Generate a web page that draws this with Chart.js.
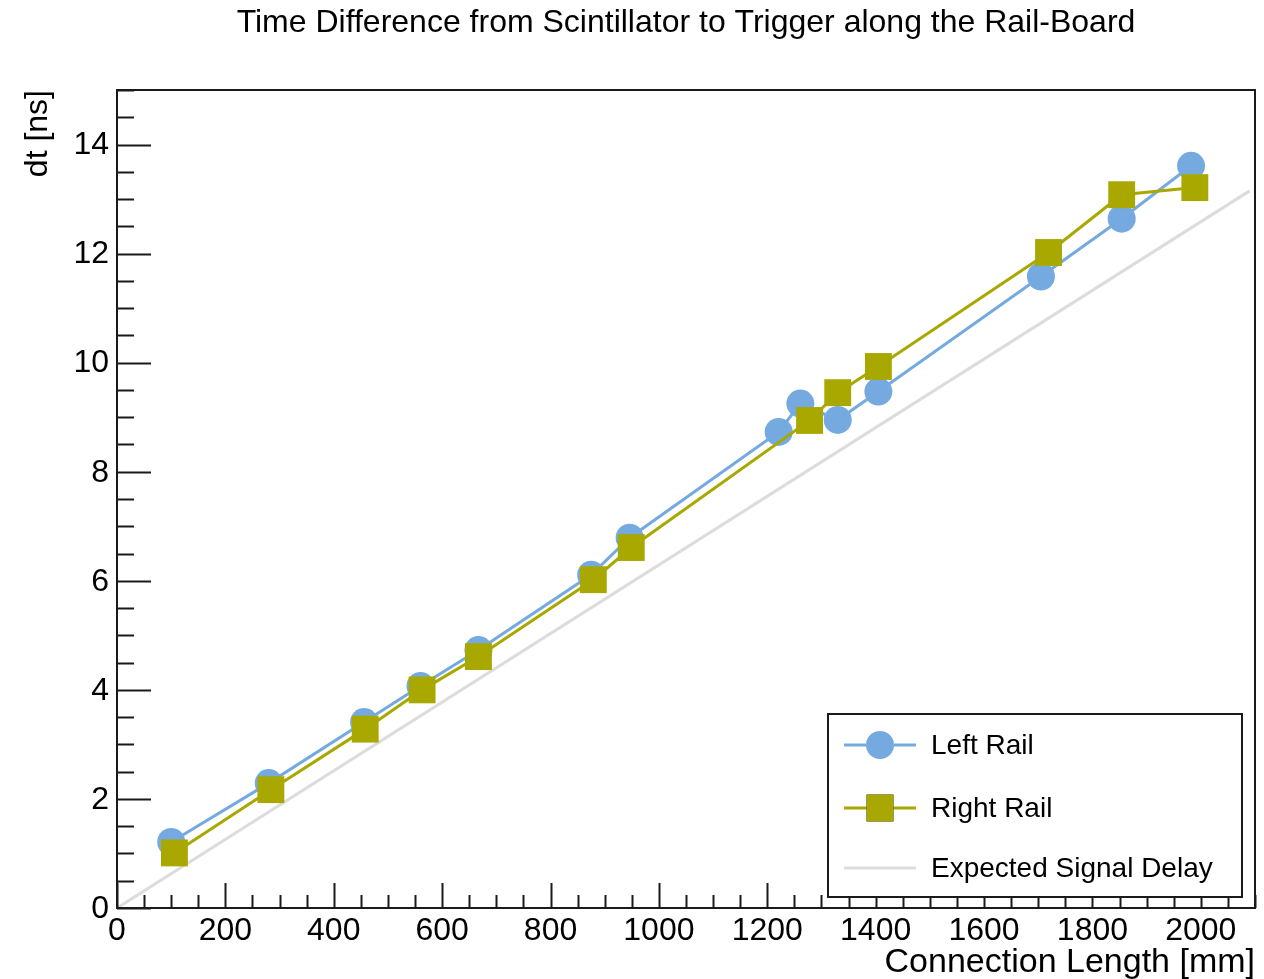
<!DOCTYPE html>
<html>
<head>
<meta charset="utf-8">
<script src="https://cdn.jsdelivr.net/npm/chart.js@4.4.1/dist/chart.umd.min.js"></script>
<style>
  html, body { margin: 0; padding: 0; background: #fff; }
</style>
</head>
<body>
<canvas id="chart" width="1264" height="979"></canvas>
<script>
// connection length [mm] and measured dt [ns] per rail
const leftLength  = [100, 280, 456, 560, 667, 875, 946, 1221, 1261, 1330, 1405, 1705, 1854, 1982];
const leftDt      = [1.21, 2.29, 3.41, 4.07, 4.73, 6.11, 6.79, 8.73, 9.25, 8.95, 9.47, 11.58, 12.64, 13.61];
const rightLength = [106, 284, 458, 563, 667, 879, 949, 1278, 1330, 1405, 1719, 1854, 1989];
const rightDt     = [1.01, 2.17, 3.28, 4.00, 4.61, 6.02, 6.61, 8.94, 9.45, 9.93, 12.02, 13.08, 13.21];
const expectedLength = [0, 2090];
const expectedDt     = [0, 13.15];

const xMajorTicks = [0, 200, 400, 600, 800, 1000, 1200, 1400, 1600, 1800, 2000];
const yMajorTicks = [0, 2, 4, 6, 8, 10, 12, 14];

const titleText = 'Time Difference from Scintillator to Trigger along the Rail-Board';
const xTitle = 'Connection Length [mm]';
const yTitle = 'dt [ns]';

const FONT = "'Liberation Sans', Arial, Helvetica, sans-serif";
const BLUE = '#74aae0';
const OLIVE = '#a8a800';
const GREY = '#dcdcdc';

const toPoints = (xs, ys) => xs.map((x, i) => ({ x, y: ys[i] }));

// ROOT-like frame: inward ticks, labels, titles and a boxed legend
const rootFrame = {
  id: 'rootFrame',
  afterDraw(chart) {
    const { ctx, chartArea: a } = chart;
    const xs = chart.scales.x, ys = chart.scales.y;
    ctx.save();

    ctx.strokeStyle = '#1a1a1a';
    ctx.lineWidth = 2;
    ctx.strokeRect(a.left, a.top, a.right - a.left, a.bottom - a.top);

    ctx.lineWidth = 2;
    ctx.beginPath();
    for (let v = 0; v <= xs.max; v += 50) {
      const px = Math.round(xs.getPixelForValue(v)) + 0.5;
      const len = v % 200 === 0 ? 25 : 13;
      ctx.moveTo(px, a.bottom);
      ctx.lineTo(px, a.bottom - len);
    }
    for (let v = 0; v <= ys.max; v += 0.5) {
      const py = Math.round(ys.getPixelForValue(v)) + 0.5;
      const len = v % 2 === 0 ? 34 : 17;
      ctx.moveTo(a.left, py);
      ctx.lineTo(a.left + len, py);
    }
    ctx.stroke();

    ctx.fillStyle = '#000';
    ctx.font = `32px ${FONT}`;
    ctx.textAlign = 'center';
    ctx.textBaseline = 'middle';
    xs.ticks.forEach(t => {
      ctx.fillText(String(t.value), xs.getPixelForValue(t.value), a.bottom + 23);
    });
    ctx.textAlign = 'right';
    ys.ticks.forEach(t => {
      ctx.fillText(String(t.value), a.left - 8, ys.getPixelForValue(t.value) + 1);
    });

    // axis titles
    ctx.font = `34px ${FONT}`;
    ctx.textAlign = 'right';
    ctx.textBaseline = 'alphabetic';
    ctx.fillText(xTitle, a.right, a.bottom + 64);
    ctx.font = `32px ${FONT}`;
    ctx.save();
    ctx.translate(a.left - 70, a.top);
    ctx.rotate(-Math.PI / 2);
    ctx.fillText(yTitle, 0, 0);
    ctx.restore();

    // main title, centred over the frame
    ctx.font = `32px ${FONT}`;
    ctx.textAlign = 'center';
    ctx.textBaseline = 'middle';
    ctx.fillText(titleText, (a.left + a.right) / 2, 23);

    // legend box in the lower right corner
    const bx = a.right - 427, by = a.bottom - 194, bw = 414, bh = 183;
    ctx.fillStyle = '#fff';
    ctx.fillRect(bx, by, bw, bh);
    ctx.strokeStyle = '#1a1a1a';
    ctx.lineWidth = 2;
    ctx.strokeRect(bx, by, bw, bh);

    const rows = [31, 94, 154];
    chart.data.datasets.forEach((ds, i) => {
      const ry = by + rows[i];
      ctx.strokeStyle = ds.borderColor;
      ctx.lineWidth = ds.borderWidth;
      ctx.beginPath();
      ctx.moveTo(bx + 16, ry);
      ctx.lineTo(bx + 88, ry);
      ctx.stroke();
      if (ds.pointRadius > 0) {
        Chart.helpers.drawPoint(ctx, {
          pointStyle: ds.pointStyle,
          radius: ds.pointRadius,
          borderWidth: 0,
          rotation: 0
        }, bx + 52, ry);
        ctx.fillStyle = ds.pointBackgroundColor;
        ctx.fill();
      }
      ctx.fillStyle = '#000';
      ctx.font = `28px ${FONT}`;
      ctx.textAlign = 'left';
      ctx.textBaseline = 'middle';
      ctx.fillText(ds.label, bx + 103, ry + 1);
    });

    ctx.restore();
  }
};

new Chart(document.getElementById('chart'), {
  type: 'scatter',
  data: {
    datasets: [
      {
        label: 'Left Rail',
        data: toPoints(leftLength, leftDt),
        showLine: true,
        borderColor: BLUE,
        borderWidth: 3,
        pointStyle: 'circle',
        pointRadius: 14,
        pointBackgroundColor: BLUE,
        pointBorderWidth: 0,
        order: 1
      },
      {
        label: 'Right Rail',
        data: toPoints(rightLength, rightDt),
        showLine: true,
        borderColor: OLIVE,
        borderWidth: 3,
        pointStyle: 'rect',
        pointRadius: 19,
        pointBackgroundColor: OLIVE,
        pointBorderWidth: 0,
        order: 0
      },
      {
        label: 'Expected Signal Delay',
        data: toPoints(expectedLength, expectedDt),
        showLine: true,
        borderColor: GREY,
        borderWidth: 3,
        pointRadius: 0,
        order: 2
      }
    ]
  },
  options: {
    responsive: false,
    animation: false,
    devicePixelRatio: 1,
    layout: { autoPadding: false, padding: { left: 117, right: 9, top: 90, bottom: 71 } },
    plugins: {
      legend: { display: false },
      title: { display: false },
      tooltip: { enabled: false }
    },
    scales: {
      x: {
        type: 'linear',
        min: 0,
        max: 2100,
        grid: { display: false, drawTicks: false },
        border: { display: false },
        ticks: { display: false, padding: 0 },
        afterBuildTicks: s => { s.ticks = xMajorTicks.map(v => ({ value: v })); }
      },
      y: {
        type: 'linear',
        min: 0,
        max: 15,
        grid: { display: false, drawTicks: false },
        border: { display: false },
        ticks: { display: false, padding: 0 },
        afterBuildTicks: s => { s.ticks = yMajorTicks.map(v => ({ value: v })); }
      }
    }
  },
  plugins: [rootFrame]
});
</script>
</body>
</html>
